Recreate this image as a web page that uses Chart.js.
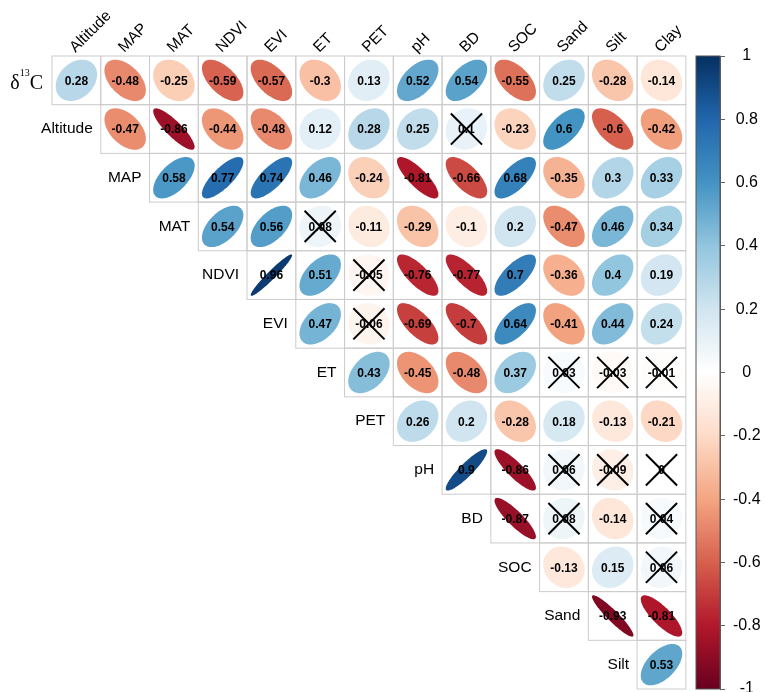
<!DOCTYPE html>
<html>
<head>
<meta charset="utf-8">
<script src="https://cdn.jsdelivr.net/npm/chart.js@4.4.1/dist/chart.umd.min.js"></script>
<style>
    html, body { margin: 0; padding: 0; background: #ffffff; }
    #wrap { width: 766px; height: 692px; }
</style>
</head>
<body>
<div id="wrap"><canvas id="graficoCorrelacao" width="766" height="692"></canvas></div>
<script>
// ==========================================
// DADOS: MATRIZ DE CORRELAÇÃO (triângulo superior)
// ==========================================
const colunas = ["Altitude", "MAP", "MAT", "NDVI", "EVI", "ET", "PET", "pH", "BD", "SOC", "Sand", "Silt", "Clay"];
const linhas = ["δ13C", "Altitude", "MAP", "MAT", "NDVI", "EVI", "ET", "PET", "pH", "BD", "SOC", "Sand", "Silt"];

// cada linha i começa na coluna i
const correlacoes = [
    [0.28, -0.48, -0.25, -0.59, -0.57, -0.3, 0.13, 0.52, 0.54, -0.55, 0.25, -0.28, -0.14],
    [-0.47, -0.86, -0.44, -0.48, 0.12, 0.28, 0.25, 0.1, -0.23, 0.6, -0.6, -0.42],
    [0.58, 0.77, 0.74, 0.46, -0.24, -0.81, -0.66, 0.68, -0.35, 0.3, 0.33],
    [0.54, 0.56, 0.08, -0.11, -0.29, -0.1, 0.2, -0.47, 0.46, 0.34],
    [0.96, 0.51, -0.05, -0.76, -0.77, 0.7, -0.36, 0.4, 0.19],
    [0.47, -0.06, -0.69, -0.7, 0.64, -0.41, 0.44, 0.24],
    [0.43, -0.45, -0.48, 0.37, 0.03, -0.03, -0.01],
    [0.26, 0.2, -0.28, 0.18, -0.13, -0.21],
    [0.9, -0.86, 0.06, -0.09, 0],
    [-0.87, 0.08, -0.14, 0.04],
    [-0.13, 0.15, 0.06],
    [-0.93, -0.81],
    [0.53]
];

// pares [linha, coluna] sem significância (marcados com X)
const naoSignificativos = [
    [1, 8], [3, 5], [4, 6], [5, 6],
    [6, 10], [6, 11], [6, 12],
    [8, 10], [8, 11], [8, 12],
    [9, 10], [9, 12], [10, 12]
];

const ticksLegenda = [1, 0.8, 0.6, 0.4, 0.2, 0, -0.2, -0.4, -0.6, -0.8, -1];

// paleta RdBu de -1 a 1
const paleta = ["#67001F", "#B2182B", "#D6604D", "#F4A582", "#FDDBC7", "#FFFFFF",
                "#D1E5F0", "#92C5DE", "#4393C3", "#2166AC", "#053061"];

const FONTE = "Arial, 'Liberation Sans', sans-serif";

function hexParaRgb(h) {
    return [parseInt(h.slice(1, 3), 16), parseInt(h.slice(3, 5), 16), parseInt(h.slice(5, 7), 16)];
}

function corDoValor(v) {
    const pos = (v + 1) / 2 * (paleta.length - 1);
    const i = Math.min(Math.floor(pos), paleta.length - 2);
    const f = pos - i;
    const a = hexParaRgb(paleta[i]);
    const b = hexParaRgb(paleta[i + 1]);
    const c = a.map((x, k) => Math.round(x + (b[k] - x) * f));
    return `rgb(${c[0]}, ${c[1]}, ${c[2]})`;
}

const pontos = [];
correlacoes.forEach((valores, i) => {
    valores.forEach((v, k) => {
        const j = i + k;
        const cruz = naoSignificativos.some(p => p[0] === i && p[1] === j);
        pontos.push({ x: j, y: i, v: v, cruz: cruz });
    });
});

// ==========================================
// PLUGIN: CÉLULAS, ELIPSES, RÓTULOS E BARRA DE CORES
// ==========================================
const pluginCorrplot = {
    id: 'corrplot',
    beforeDatasetsDraw(chart) {
        const ctx = chart.ctx;
        const sx = chart.scales.x, sy = chart.scales.y;
        const cw = sx.getPixelForValue(1) - sx.getPixelForValue(0);
        const ch = Math.abs(sy.getPixelForValue(1) - sy.getPixelForValue(0));
        const meta = chart.getDatasetMeta(0);

        ctx.save();
        ctx.strokeStyle = "#cccccc";
        ctx.lineWidth = 1;
        meta.data.forEach(el => {
            ctx.strokeRect(el.x - cw / 2, el.y - ch / 2, cw, ch);
        });
        ctx.restore();

        // barra de cores
        const yb = chart.scales.yBar;
        const topo = yb.getPixelForValue(1);
        const base = yb.getPixelForValue(-1);
        const dir = chart.chartArea.right;
        const grad = ctx.createLinearGradient(0, base, 0, topo);
        paleta.forEach((c, i) => grad.addColorStop(i / (paleta.length - 1), c));
        ctx.save();
        ctx.fillStyle = grad;
        ctx.fillRect(dir - 24, topo, 24, base - topo);
        ctx.strokeStyle = "#555555";
        ctx.lineWidth = 1;
        ctx.strokeRect(dir - 24, topo, 24, base - topo);
        ctx.restore();
    },
    afterDatasetsDraw(chart) {
        const ctx = chart.ctx;
        const sx = chart.scales.x, sy = chart.scales.y;
        const cw = sx.getPixelForValue(1) - sx.getPixelForValue(0);
        const ch = Math.abs(sy.getPixelForValue(1) - sy.getPixelForValue(0));
        const meta = chart.getDatasetMeta(0);
        const dados = chart.data.datasets[0].data;

        // elipses
        ctx.save();
        meta.data.forEach((el, i) => {
            const r = dados[i].v;
            const a = Math.acos(Math.max(-1, Math.min(1, r)));
            ctx.beginPath();
            for (let t = 0; t <= 100; t++) {
                const k = t / 100 * Math.PI * 2;
                const px = el.x + 0.85 * Math.cos(k + a / 2) / 2 * cw;
                const py = el.y - 0.85 * Math.cos(k - a / 2) / 2 * ch;
                if (t === 0) ctx.moveTo(px, py); else ctx.lineTo(px, py);
            }
            ctx.closePath();
            ctx.fillStyle = corDoValor(r);
            ctx.fill();
        });
        ctx.restore();

        // valores
        ctx.save();
        ctx.font = "bold 12px " + FONTE;
        ctx.fillStyle = "#000000";
        ctx.textAlign = "center";
        ctx.textBaseline = "middle";
        meta.data.forEach((el, i) => {
            ctx.fillText(String(dados[i].v), el.x, el.y + 1);
        });
        ctx.restore();

        // X nas correlações não significativas
        ctx.save();
        ctx.strokeStyle = "#000000";
        ctx.lineWidth = 2;
        const d = 0.32 * cw;
        meta.data.forEach((el, i) => {
            if (!dados[i].cruz) return;
            ctx.beginPath();
            ctx.moveTo(el.x - d, el.y - d);
            ctx.lineTo(el.x + d, el.y + d);
            ctx.moveTo(el.x - d, el.y + d);
            ctx.lineTo(el.x + d, el.y - d);
            ctx.stroke();
        });
        ctx.restore();

        // rótulos das colunas (inclinados)
        const topoGrade = sy.getPixelForValue(-0.5);
        ctx.save();
        ctx.font = "15.5px " + FONTE;
        ctx.fillStyle = "#000000";
        ctx.textAlign = "left";
        ctx.textBaseline = "alphabetic";
        colunas.forEach((nome, j) => {
            ctx.save();
            ctx.translate(sx.getPixelForValue(j) - 1, topoGrade - 3);
            ctx.rotate(-Math.PI / 4);
            ctx.fillText(nome, 0, 0);
            ctx.restore();
        });
        ctx.restore();

        // rótulos das linhas (ao lado da primeira célula de cada linha)
        ctx.save();
        ctx.fillStyle = "#000000";
        linhas.forEach((nome, i) => {
            const xd = sx.getPixelForValue(i - 0.5) - 8;
            const yc = sy.getPixelForValue(i);
            if (i === 0) {
                // δ¹³C em fonte serifada com sobrescrito
                const serif = "'Liberation Serif', 'Times New Roman', serif";
                ctx.textBaseline = "alphabetic";
                ctx.textAlign = "left";
                ctx.font = "20px " + serif;
                const wC = ctx.measureText("C").width;
                const wD = ctx.measureText("δ").width;
                ctx.font = "10px " + serif;
                const wS = ctx.measureText("13").width;
                const x0 = xd - 1 - (wD + wS + wC);
                const base = yc + 9;
                ctx.font = "20px " + serif;
                ctx.fillText("δ", x0, base);
                ctx.font = "10px " + serif;
                ctx.fillText("13", x0 + wD, base - 13);
                ctx.font = "20px " + serif;
                ctx.fillText("C", x0 + wD + wS, base);
            } else {
                ctx.font = "15.5px " + FONTE;
                ctx.textAlign = "right";
                ctx.textBaseline = "middle";
                ctx.fillText(nome, xd, yc);
            }
        });
        ctx.restore();
    }
};

// ==========================================
// GRÁFICO
// ==========================================
const ctxGrafico = document.getElementById('graficoCorrelacao').getContext('2d');
new Chart(ctxGrafico, {
    type: 'scatter',
    data: {
        datasets: [{
            data: pontos,
            pointRadius: 0,
            pointHoverRadius: 0
        }]
    },
    options: {
        responsive: false,
        animation: false,
        layout: { padding: { left: 52, top: 56, right: 0, bottom: 3 } },
        plugins: { legend: { display: false }, tooltip: { enabled: false } },
        scales: {
            x: { type: 'linear', min: -0.5, max: 13.2, display: false },
            y: { type: 'linear', min: -0.5, max: 12.5, reverse: true, display: false },
            yBar: {
                type: 'linear',
                position: 'right',
                min: -1,
                max: 1,
                afterBuildTicks(scale) {
                    scale.ticks = ticksLegenda.map(v => ({ value: v }));
                },
                afterFit(scale) {
                    scale.width = 46;
                    // o rótulo "-1" pode sair um pouco da área
                    scale.paddingTop = 0;
                    scale.paddingBottom = 0;
                },
                grid: { drawOnChartArea: false, tickLength: 5, color: '#666666' },
                border: { display: true, color: '#666666' },
                ticks: {
                    autoSkip: false,
                    crossAlign: 'center',
                    padding: 8,
                    color: '#000000',
                    font: { family: FONTE, size: 16 },
                    callback: v => String(Math.round(v * 10) / 10)
                }
            }
        }
    },
    plugins: [pluginCorrplot]
});
</script>
</body>
</html>
